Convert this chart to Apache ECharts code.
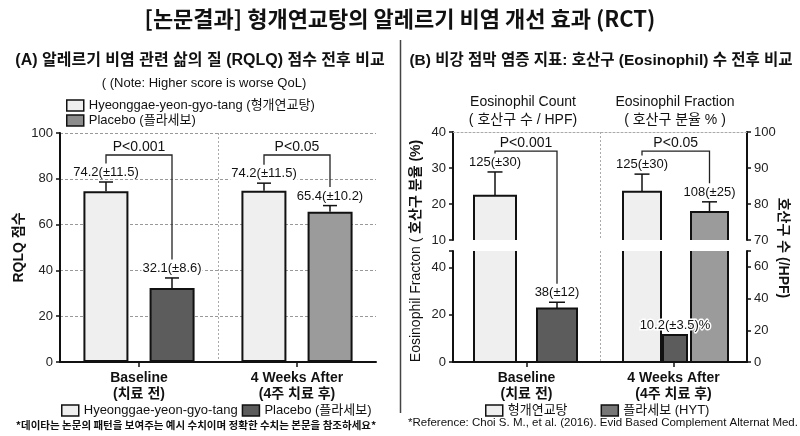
<!DOCTYPE html>
<html>
<head>
<meta charset="utf-8">
<script src="https://cdn.jsdelivr.net/npm/echarts@6/dist/echarts.min.js"></script>
<style>
  html, body { margin: 0; padding: 0; background: #fff; }
  #main { width: 800px; height: 436px; }
</style>
</head>
<body>
<div id="main"></div>
<script>
const FONT = '"Liberation Sans", Arial, "Noto Sans CJK KR", sans-serif'
const KFONT = '"Noto Sans CJK KR", "Liberation Sans", sans-serif'

// 공통 카테고리
const categories = ['Baseline\n(치료 전)', '4 Weeks After\n(4주 치료 후)']

// (A) RQLQ 점수
const rqlqHyt = [74.6, 74.8]
const rqlqHytErr = [78.6, 78.1]
const rqlqPla = [32.3, 65.6]
const rqlqPlaErr = [36.7, 68.3]
const rqlqHytLabels = ['74.2(±11.5)', '74.2(±11.5)']
const rqlqPlaLabels = ['32.1(±8.6)', '65.4(±10.2)']
const rqlqP = ['P<0.001', 'P<0.05']

// (B) 호산구 - 위쪽 구간(10~40), 아래쪽 구간(0~47) 모두 왼쪽 축 기준
const eoHytUpper = [22.3, 23.4]
const eoHytUpperErr = [28.9, 28.3]
const eoPlaUpper = [null, 17.8]
const eoPlaUpperErr = [null, 20.6]
const eoDarkLower = [22.7, 11.4]
const eoDarkLowerErr = [25.3, null]
const eoHytLabels = ['125(±30)', '125(±30)']
const eoPlaLabels = [null, '108(±25)']
const eoDarkLabels = ['38(±12)', '10.2(±3.5)%']
const eoP = ['P<0.001', 'P<0.05']

// 축 범위
const EO_UP_MIN = 10, EO_UP_MAX = 40
const EO_LOW_MAX = 47
const CNT_UP_MIN = 70, CNT_UP_MAX = 100, CNT_LOW_MAX = 70

// 레이아웃 / 색
const LIGHT = '#efefef', DARK = '#5c5c5c', MID = '#9b9b9b', EDGE = '#111'
const rqlqPlaColors = [DARK, MID]
const A_OFF = 33
const B_OFF = { hyt: [-31.5, -31.5], pla: [null, 36], dark: [30.5, 1.5] }
const B_W = { hyt: [42, 38], pla: [null, 37], dark: [40, 24] }
const A_BRACKET = 90.4, B_BRACKET = 34.7

function errSeries(xIdx, yIdx, groups, capW, txt) {
  const data = []
  groups.forEach((g, gi) => g.vals.forEach((v, i) => { if (v != null) data.push([i, v, gi]) }))
  return {
    type: 'custom', xAxisIndex: xIdx, yAxisIndex: yIdx, silent: true, z: 5,
    data: data, encode: { x: 0, y: 1 },
    renderItem: function (params, api) {
      const i = api.value(0), g = groups[api.value(2)]
      const base = api.coord([i, g.vals[i]])
      const x = base[0] + g.offsets[i]
      const ch = []
      let top = base[1]
      if (g.errs[i] != null) {
        top = api.coord([i, g.errs[i]])[1]
        ch.push({ type: 'line', shape: { x1: x, y1: base[1], x2: x, y2: top }, style: { stroke: EDGE, lineWidth: 1.5 } })
        ch.push({ type: 'line', shape: { x1: x - capW / 2, y1: top, x2: x + capW / 2, y2: top }, style: { stroke: EDGE, lineWidth: 1.5 } })
      }
      if (g.labels[i]) {
        ch.push({ type: 'text', x: x, y: top - 9.5,
          style: Object.assign({ text: g.labels[i], align: 'center', verticalAlign: 'middle', fill: '#111', font: '13px ' + FONT }, txt) })
      }
      return { type: 'group', children: ch }
    }
  }
}

// 끊어진 축 막대 (upper: 위 구간, lower: 아래 구간)
function pieceSeries(name, xIdx, yIdx, pieces) {
  const data = []
  pieces.forEach((p, pi) => p.vals.forEach((v, i) => { if (v != null) data.push([i, v, pi]) }))
  return {
    name: name, type: 'custom', xAxisIndex: xIdx, yAxisIndex: yIdx, z: 3,
    data: data, encode: { x: 0, y: 1 },
    renderItem: function (params, api) {
      const i = api.value(0), p = pieces[api.value(2)]
      const w = p.widths[i]
      const topPt = api.coord([i, p.through ? p.top : p.vals[i]])
      const bot = api.coord([i, p.bottom])[1]
      const x0 = topPt[0] + p.offsets[i] - w / 2, x1 = x0 + w
      const y0 = topPt[1]
      const edge = p.through
        ? [[x0, y0], [x0, bot], [x1, bot], [x1, y0]]
        : (p.open ? [[x0, bot], [x0, y0], [x1, y0], [x1, bot]] : [[x0, bot], [x0, y0], [x1, y0], [x1, bot], [x0, bot]])
      return { type: 'group', children: [
        { type: 'rect', shape: { x: x0, y: y0, width: w, height: bot - y0 }, style: { fill: p.colors[i] } },
        { type: 'polyline', shape: { points: edge }, style: { stroke: EDGE, lineWidth: 2, fill: null } }
      ] }
    }
  }
}

const axisLabelCat = {
  interval: 0, margin: 8, color: '#111', fontFamily: FONT, fontSize: 14, fontWeight: 'bold', lineHeight: 16
}
const yLabel = { color: '#222', fontSize: 13, fontFamily: FONT, margin: 7 }
const blackLine = { show: true, lineStyle: { color: EDGE, width: 2 } }
const blackTick = { show: true, length: 4, lineStyle: { color: EDGE, width: 1.5 } }
const divider = { show: true, showMinLine: false, showMaxLine: false, lineStyle: { color: '#aaa', type: [2, 2], width: 1 } }

const option = {
  animation: false,
  backgroundColor: '#fff',
  textStyle: { fontFamily: FONT },
  grid: [
    { left: 60, top: 133, width: 316, height: 229 },
    { left: 453, top: 132, width: 294, height: 108 },
    { left: 453, top: 251, width: 294, height: 111 }
  ],
  legend: [
    {
      orient: 'vertical', left: 66, top: 99, padding: 0, itemGap: 2, itemWidth: 17, itemHeight: 11, icon: 'rect',
      textStyle: { fontSize: 13, color: '#111', fontFamily: FONT },
      formatter: n => n === 'Placebo' ? 'Placebo (플라세보)' : n + ' (형개연교탕)',
      data: [
        { name: 'Hyeonggae-yeon-gyo-tang', itemStyle: { color: LIGHT, borderColor: EDGE, borderWidth: 1.5 } },
        { name: 'Placebo', itemStyle: { color: '#8c8c8c', borderColor: EDGE, borderWidth: 1.5 } }
      ]
    },
    {
      orient: 'horizontal', left: 61, top: 404, padding: 0, itemGap: 4, itemWidth: 17, itemHeight: 11, icon: 'rect',
      textStyle: { fontSize: 13, color: '#111', fontFamily: FONT },
      formatter: n => n === 'Placebo' ? 'Placebo (플라세보)' : n,
      data: [
        { name: 'Hyeonggae-yeon-gyo-tang', itemStyle: { color: LIGHT, borderColor: EDGE, borderWidth: 1.5 } },
        { name: 'Placebo', itemStyle: { color: DARK, borderColor: EDGE, borderWidth: 1.5 } }
      ]
    },
    {
      orient: 'horizontal', left: 485, top: 404, padding: 0, itemGap: 33, itemWidth: 17, itemHeight: 11, icon: 'rect',
      textStyle: { fontSize: 13, color: '#111', fontFamily: FONT },
      data: [
        { name: '형개연교탕', itemStyle: { color: LIGHT, borderColor: EDGE, borderWidth: 1.5 } },
        { name: '플라세보 (HYT)', itemStyle: { color: '#777', borderColor: EDGE, borderWidth: 1.5 } }
      ]
    }
  ],
  xAxis: [
    { gridIndex: 0, type: 'category', data: categories, axisLine: blackLine,
      axisTick: { show: true, alignWithLabel: true, length: 5, lineStyle: { color: EDGE, width: 1.5 } },
      axisLabel: axisLabelCat, splitLine: divider },
    { gridIndex: 1, type: 'category', data: categories, position: 'top',
      axisLine: { show: true, lineStyle: { color: '#aaa', type: [2, 2], width: 1 } },
      axisTick: { show: false }, axisLabel: { show: false }, splitLine: divider },
    { gridIndex: 2, type: 'category', data: categories, axisLine: blackLine,
      axisTick: { show: true, alignWithLabel: true, length: 5, lineStyle: { color: EDGE, width: 1.5 } },
      axisLabel: axisLabelCat, splitLine: divider }
  ],
  yAxis: [
    { gridIndex: 0, type: 'value', min: 0, max: 100, interval: 20,
      axisLine: blackLine, axisTick: blackTick, axisLabel: yLabel,
      splitLine: { show: true, lineStyle: { color: '#999', type: [3, 2], width: 1 } },
      name: 'RQLQ 점수', nameLocation: 'middle', nameGap: 34,
      nameTextStyle: { fontSize: 14, fontWeight: 'bold', color: '#111', fontFamily: FONT } },
    { gridIndex: 1, type: 'value', min: EO_UP_MIN, max: EO_UP_MAX, interval: 10,
      axisLine: blackLine, axisTick: blackTick, axisLabel: yLabel, splitLine: { show: false } },
    { gridIndex: 1, type: 'value', position: 'right', min: CNT_UP_MIN, max: CNT_UP_MAX, interval: 10,
      axisLine: blackLine, axisTick: blackTick, axisLabel: yLabel, splitLine: { show: false } },
    { gridIndex: 2, type: 'value', min: 0, max: EO_LOW_MAX, interval: 20,
      axisLine: blackLine, axisTick: blackTick, splitLine: { show: false },
      axisLabel: Object.assign({}, yLabel, { formatter: v => v % 20 === 0 ? v : '' }) },
    { gridIndex: 2, type: 'value', position: 'right', min: 0, max: CNT_LOW_MAX, interval: 20,
      axisLine: blackLine, axisTick: blackTick, splitLine: { show: false },
      axisLabel: Object.assign({}, yLabel, { formatter: v => v % 20 === 0 ? v : '' }) }
  ],
  series: [
    { name: 'Hyeonggae-yeon-gyo-tang', type: 'bar', xAxisIndex: 0, yAxisIndex: 0, data: rqlqHyt,
      barWidth: 45, barGap: '47%', itemStyle: { color: LIGHT, borderColor: EDGE, borderWidth: 2 } },
    { name: 'Placebo', type: 'bar', xAxisIndex: 0, yAxisIndex: 0, data: rqlqPla,
      barWidth: 45, itemStyle: { color: p => rqlqPlaColors[p.dataIndex], borderColor: EDGE, borderWidth: 2 } },
    errSeries(0, 0, [
      { vals: rqlqHyt, errs: rqlqHytErr, labels: rqlqHytLabels, offsets: [-A_OFF, -A_OFF] },
      { vals: rqlqPla, errs: rqlqPlaErr, labels: rqlqPlaLabels, offsets: [A_OFF, A_OFF] }
    ], 14, { backgroundColor: '#fff', padding: [0, 1] }),

    // (B) 위 구간
    pieceSeries('형개연교탕', 1, 1, [
      { vals: eoHytUpper, bottom: EO_UP_MIN, open: true, offsets: B_OFF.hyt, widths: B_W.hyt, colors: [LIGHT, LIGHT] }
    ]),
    pieceSeries('플라세보 (HYT)', 1, 1, [
      { vals: eoPlaUpper, bottom: EO_UP_MIN, open: true, offsets: B_OFF.pla, widths: B_W.pla, colors: [MID, MID] }
    ]),
    // (B) 아래 구간
    pieceSeries('형개연교탕', 2, 3, [
      { vals: eoHytUpper, through: true, top: EO_LOW_MAX, bottom: 0, offsets: B_OFF.hyt, widths: B_W.hyt, colors: [LIGHT, LIGHT] }
    ]),
    pieceSeries('플라세보 (HYT)', 2, 3, [
      { vals: eoPlaUpper, through: true, top: EO_LOW_MAX, bottom: 0, offsets: B_OFF.pla, widths: B_W.pla, colors: [MID, MID] },
      { vals: eoDarkLower, bottom: 0, offsets: B_OFF.dark, widths: B_W.dark, colors: [DARK, DARK] }
    ]),
    errSeries(1, 1, [
      { vals: eoHytUpper, errs: eoHytUpperErr, labels: eoHytLabels, offsets: B_OFF.hyt },
      { vals: eoPlaUpper, errs: eoPlaUpperErr, labels: eoPlaLabels, offsets: B_OFF.pla }
    ], 15, { stroke: '#fff', lineWidth: 3 }),
    errSeries(2, 3, [
      { vals: eoDarkLower, errs: eoDarkLowerErr, labels: eoDarkLabels, offsets: B_OFF.dark }
    ], 16, { stroke: '#fff', lineWidth: 3 })
  ]
}

const chart = echarts.init(document.getElementById('main'))
chart.setOption(option)

// 유의성 괄호 / 제목 등
const px = (xi, yi, c, v) => chart.convertToPixel({ xAxisIndex: xi, yAxisIndex: yi }, [c, v])
const gfx = []
function bracket(xl, yl, xr, yr, yTop, text) {
  gfx.push({ type: 'polyline', z: 4, shape: { points: [[xl, yl], [xl, yTop], [xr, yTop], [xr, yr]] },
    style: { stroke: '#222', lineWidth: 1.3, fill: null } })
  gfx.push({ type: 'text', z: 6, x: (xl + xr) / 2, y: yTop - 8,
    style: { text: text, font: '14px ' + FONT, fill: '#111', align: 'center', verticalAlign: 'middle' } })
}
categories.forEach((c, i) => {
  // A
  const hl = px(0, 0, i, rqlqHytErr[i]), pl = px(0, 0, i, rqlqPlaErr[i])
  const yTopA = px(0, 0, i, A_BRACKET)[1]
  bracket(hl[0] - A_OFF, hl[1] - 18.5, pl[0] + A_OFF, pl[1] - 18.5, yTopA, rqlqP[i])
  // B
  const bh = px(1, 1, i, eoHytUpperErr[i])
  const yTopB = px(1, 1, i, B_BRACKET)[1]
  let rx, ry
  if (eoPlaUpper[i] != null) {
    const bp = px(1, 1, i, eoPlaUpperErr[i])
    rx = bp[0] + B_OFF.pla[i]; ry = bp[1] - 18.5
  } else {
    const bd = px(2, 3, i, eoDarkLowerErr[i] != null ? eoDarkLowerErr[i] : eoDarkLower[i])
    rx = bd[0] + B_OFF.dark[i]; ry = bd[1] - 18.5
  }
  bracket(bh[0] + B_OFF.hyt[i], bh[1] - 18.5, rx, ry, yTopB, eoP[i])
})

function label(x, y, text, font, extra) {
  gfx.push(Object.assign({ type: 'text', x: x, y: y, z: 6,
    style: { text: text, font: font, fill: '#111', align: 'center', verticalAlign: 'middle' } }, extra || {}))
}
label(400, 19, '[논문결과] 형개연교탕의 알레르기 비염 개선 효과 (RCT)', 'bold 22px ' + KFONT)
label(200, 61, '(A) 알레르기 비염 관련 삶의 질 (RQLQ) 점수 전후 비교', 'bold 16px ' + FONT)
label(204, 83, '( (Note: Higher score is worse QoL)', '13px ' + FONT)
label(601, 61, '(B) 비강 점막 염증 지표: 호산구 (Eosinophil) 수 전후 비교', 'bold 15.5px ' + FONT)
label(523, 102, 'Eosinophil Count', '14px ' + FONT)
label(523, 120, '( 호산구 수 / HPF)', '14px ' + FONT)
label(675, 102, 'Eosinophil Fraction', '14px ' + FONT)
label(675, 120, '( 호산구 분율 % )', '14px ' + FONT)
label(196, 425, '*데이타는 논문의 패턴을 보여주는 예시 수치이며 정확한 수치는 본문을 참조하세요*', 'bold 10.5px ' + KFONT)
label(603, 423, '*Reference: Choi S. M., et al. (2016). Evid Based Complement Alternat Med.', '11.5px ' + FONT)
gfx.push({ type: 'text', x: 416, y: 251, rotation: Math.PI / 2, z: 6,
  style: { text: '{a|Eosinophil Fracton (}{b| 호산구 분율 (%)}', align: 'center', verticalAlign: 'middle',
    rich: { a: { font: '14px ' + FONT, fill: '#111' }, b: { font: 'bold 14px ' + FONT, fill: '#111' } } } })
gfx.push({ type: 'text', x: 783, y: 248, rotation: -Math.PI / 2, z: 6,
  style: { text: '호산구 수 (/HPF)', font: 'bold 14px ' + FONT, fill: '#111', align: 'center', verticalAlign: 'middle' } })
gfx.push({ type: 'line', z: 6, shape: { x1: 400.5, y1: 40, x2: 400.5, y2: 413 }, style: { stroke: '#444', lineWidth: 1.5 } })

chart.setOption({ graphic: gfx })
</script>
</body>
</html>
